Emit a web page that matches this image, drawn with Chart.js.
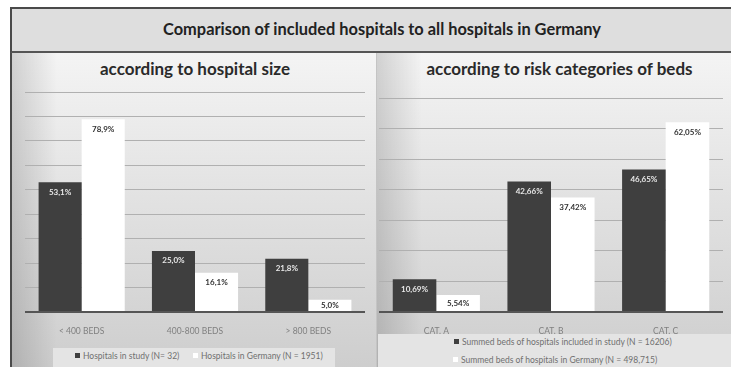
<!DOCTYPE html>
<html>
<head>
<meta charset="utf-8">
<title>Comparison of included hospitals to all hospitals in Germany</title>
<script src="https://cdn.jsdelivr.net/npm/chart.js@4/dist/chart.umd.min.js"></script>
<style>
    body {
        margin: 0;
        width: 731px;
        height: 367px;
        overflow: hidden;
        background: #ffffff;
        font-family: Lato, 'Open Sans', sans-serif;
        position: relative;
    }
    .abs { position: absolute; }
    #titleBand {
        left: 10px; top: 7px; width: 740px; height: 42px;
        background: #dedede;
        border: 2px solid #4a4a4a;
        border-bottom: 2px solid #555;
        text-align: center;
        line-height: 40px;
        font-weight: bold;
        font-size: 16.4px;
        color: #222;
    }
    .panel {
        top: 53px; height: 320px;
        background:
            linear-gradient(to right, rgba(0,0,0,0.14) 0px, rgba(0,0,0,0) 45px),
            linear-gradient(to bottom, #f4f4f4 0%, #e4e4e4 40%, #cdcdcd 100%);
    }
    #leftPanel { left: 10px; width: 364px; border-left: 2px solid #4a4a4a; }
    #rightPanel { left: 376px; width: 370px; border-left: 1px solid #c4c4c4; }
    .subtitle {
        top: 58px; height: 22px;
        text-align: center;
        font-weight: bold;
        font-size: 17px;
        color: #2a2a2a;
        line-height: 22px;
    }
    canvas { position: absolute; }
    .legend {
        background: #e4e4e4;
        color: #707070;
        white-space: nowrap;
        font-size: 8.5px;
    }
    .legend .item { position: absolute; line-height: 11px; }
    .legend .sw {
        display: inline-block; width: 5px; height: 5px;
        margin-right: 3px; vertical-align: 1px;
    }
</style>
</head>
<body>

<div id="titleBand" class="abs">Comparison of included hospitals to all hospitals in Germany</div>
<div id="leftPanel" class="abs panel"></div>
<div id="rightPanel" class="abs panel"></div>
<div class="abs subtitle" style="left: 12px; width: 366px;">according to hospital size</div>
<div class="abs subtitle" style="left: 376px; width: 367px;">according to risk categories of beds</div>

<canvas id="sizeChart" width="365" height="250" style="left: 11px; top: 84px;"></canvas>
<canvas id="riskChart" width="355" height="250" style="left: 376px; top: 84px;"></canvas>

<div id="sizeLegend" class="abs legend" style="left: 53px; top: 348px; width: 282px; height: 19px;"></div>
<div id="riskLegend" class="abs legend" style="left: 378px; top: 334px; width: 360px; height: 34px;"></div>

<script>
// hospital size panel
const sizeCategories = ['< 400 BEDS', '400-800 BEDS', '> 800 BEDS'];
const sizeStudy = [53.1, 25.0, 21.8];
const sizeGermany = [78.9, 16.1, 5.0];
const sizeSeriesNames = ['Hospitals in study (N= 32)', 'Hospitals in Germany (N = 1951)'];

// risk category panel
const riskCategories = ['CAT. A', 'CAT. B', 'CAT. C'];
const riskStudy = [10.69, 42.66, 46.65];
const riskGermany = [5.54, 37.42, 62.05];
const riskSeriesNames = [
    'Summed beds of hospitals included in study (N = 16206)',
    'Summed beds of hospitals in Germany (N = 498,715)'
];

const DARK = '#3f3f3f';
const LIGHT = '#ffffff';

// percentage labels inside the top of every bar, comma as decimal mark
const barValues = {
    id: 'barValues',
    afterDatasetsDraw(chart, args, opts) {
        const ctx = chart.ctx;
        ctx.save();
        ctx.font = 'bold 8px Lato, sans-serif';
        ctx.textAlign = 'center';
        ctx.textBaseline = 'middle';
        chart.data.datasets.forEach((ds, i) => {
            const meta = chart.getDatasetMeta(i);
            ctx.fillStyle = i === 0 ? '#e8e8e8' : '#333333';
            meta.data.forEach((bar, j) => {
                const txt = ds.data[j].toFixed(opts.decimals).replace('.', ',') + '%';
                // short bars get the label centred instead
                const y = Math.min(bar.y + 10, (bar.y + bar.base) / 2);
                ctx.fillText(txt, bar.x, y);
            });
        });
        ctx.restore();
    }
};

function makeChart(id, labels, study, germany, names, maxY, pad, decimals) {
    return new Chart(document.getElementById(id), {
        type: 'bar',
        data: {
            labels: labels,
            datasets: [
                { label: names[0], data: study, backgroundColor: DARK },
                { label: names[1], data: germany, backgroundColor: LIGHT }
            ]
        },
        options: {
            responsive: false,
            animation: false,
            layout: { padding: pad },
            datasets: {
                bar: { categoryPercentage: 0.76, barPercentage: 1.0, borderWidth: 0 }
            },
            plugins: {
                legend: { display: false },
                tooltip: { enabled: false },
                barValues: { decimals: decimals }
            },
            scales: {
                x: {
                    grid: { display: false },
                    border: { display: false },
                    ticks: {
                        color: '#808080',
                        font: { family: 'Lato', size: 8.5 },
                        padding: 6
                    },
                    afterFit: s => { s.height = 22; }
                },
                y: {
                    min: 0,
                    max: maxY,
                    ticks: { display: false, stepSize: 10 },
                    border: { display: false },
                    grid: {
                        drawTicks: false,
                        color: c => c.tick.value === 0 ? '#555555' : '#b0b0b0',
                        lineWidth: c => c.tick.value === 0 ? 2 : 1
                    },
                    afterFit: s => { s.width = 0; }
                }
            }
        },
        plugins: [barValues]
    });
}

function buildLegend(id, names, rows) {
    const el = document.getElementById(id);
    const colors = [DARK, LIGHT];
    names.forEach((name, i) => {
        const item = document.createElement('div');
        item.className = 'item';
        item.style.left = rows[i][0] + 'px';
        item.style.top = rows[i][1] + 'px';
        item.innerHTML = '<span class="sw" style="background:' + colors[i] + '"></span>' + name;
        el.appendChild(item);
    });
}

makeChart('sizeChart', sizeCategories, sizeStudy, sizeGermany, sizeSeriesNames, 90,
    { left: 14, right: 11, top: 8, bottom: 0 }, 1);
makeChart('riskChart', riskCategories, riskStudy, riskGermany, riskSeriesNames, 70,
    { left: 3, right: 8, top: 14, bottom: 0 }, 2);

buildLegend('sizeLegend', sizeSeriesNames, [[22, 3], [140, 3]]);
buildLegend('riskLegend', riskSeriesNames, [[76, 3], [75, 21]]);
</script>
</body>
</html>
